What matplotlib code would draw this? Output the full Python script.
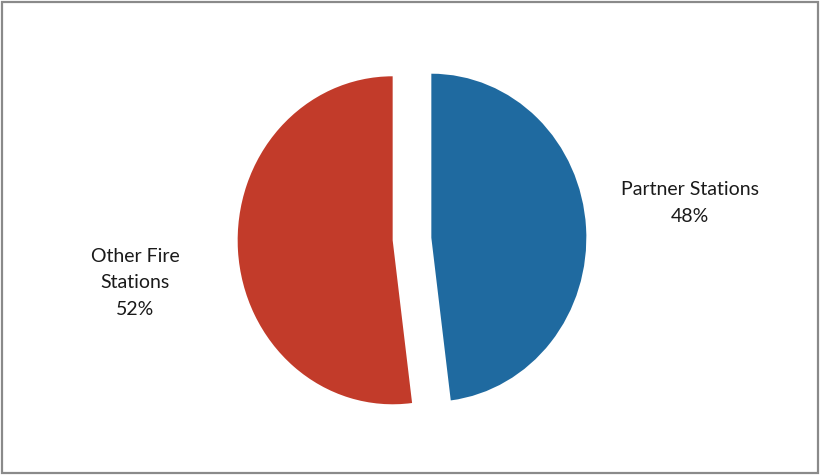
import matplotlib
matplotlib.use("Agg")
import matplotlib.pyplot as plt
from matplotlib.patches import Rectangle

categories = ["Partner Stations", "Other Fire\nStations"]
shares = [48, 52]
colors = ["#1F6AA0", "#C23B2A"]

W, H = 821, 477
fig = plt.figure(figsize=(W / 100, H / 100), dpi=100)
ax = fig.add_axes([0, 0, 1, 1])

# pixel geometry of the scanned pie
cx, cy = 412, 240
rx, ry = 155, 164

ax.pie(shares, colors=colors, startangle=90, counterclock=False,
       explode=[0.125, 0.125], radius=1, wedgeprops=dict(linewidth=0))
ax.set_aspect("auto")
ax.set_xlim(-cx / rx, (W - cx) / rx)
ax.set_ylim(-(H - cy) / ry, cy / ry)
ax.axis("off")

label_pos = [(690, 203), (135, 283)]
for cat, val, (px, py) in zip(categories, shares, label_pos):
    ax.text((px - cx) / rx, (cy - py) / ry, f"{cat}\n{val}%", ha="center", va="center",
            fontsize=14, family="Lato", color="#1a1a1a", linespacing=1.65)

fig.patches.append(Rectangle((2 / W, 3 / H), (W - 5) / W, (H - 6) / H, transform=fig.transFigure,
                             fill=False, edgecolor="#8a8a8a", linewidth=1.6))

fig.savefig("out.png", dpi=100, facecolor="white")
